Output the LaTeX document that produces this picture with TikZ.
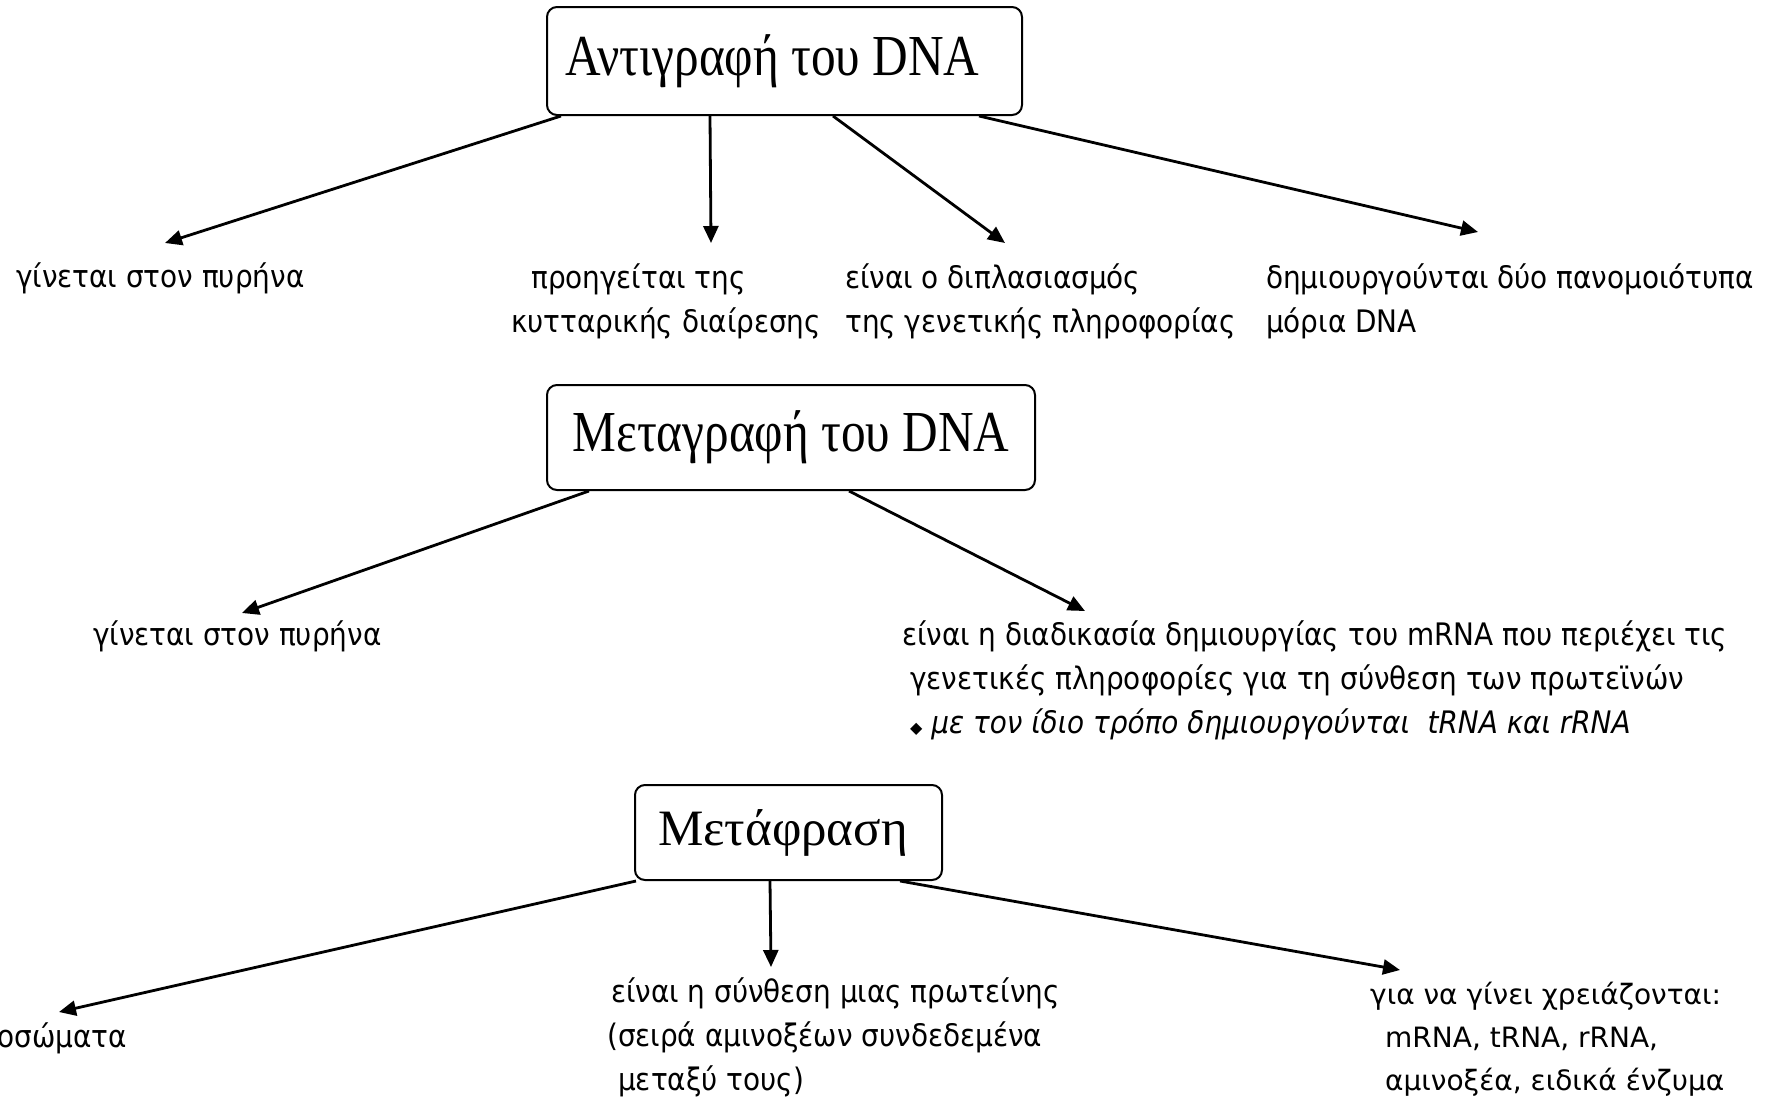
\documentclass[tikz,border=0pt]{standalone}
\usepackage{fontspec}
\usetikzlibrary{arrows.meta,calc}
\newfontfamily\titlefont[FakeStretch=0.85]{Liberation Serif}
\newfontfamily\titleplain{Liberation Serif}
\newfontfamily\bodyfont{DejaVu Sans Condensed}
\newfontfamily\roundfont{DejaVu Sans}

\begin{document}
\begin{tikzpicture}[x=1pt, y=-1pt,
	box/.style={draw, rounded corners=10pt, line width=2pt, inner sep=0pt, minimum height=105pt, font=\titlefont\fontsize{58}{60}\selectfont},
	txt/.style={anchor=base west, align=left, inner sep=0pt, font=\bodyfont\fontsize{31}{44}\selectfont},
	arr/.style={line width=2.8pt, -{Triangle[length=17pt, width=15pt]}}]
	\useasboundingbox (0,0) rectangle (1773,1100);
	% the three processes
	\node[box, minimum width=475pt, minimum height=108pt] (rep) at (784.5,61) {Αντιγραφή του DNA\hspace*{24pt}};
	\node[box, minimum width=488pt] (tra) at (791,437.5) {Μεταγραφή του DNA};
	\node[box, minimum width=307pt, minimum height=95pt, font=\titleplain\fontsize{51}{54}\selectfont] (trl) at (788.5,832.5) {Μετάφραση\hspace*{11pt}};
	% first row (base = last line)
	\node[txt] (r1) at (16,287) {γίνεται στον πυρήνα};
	\node[txt] (r2) at (511,332) {\hspace*{20pt}προηγείται της\\κυτταρικής διαίρεσης};
	\node[txt] (r3) at (845,332) {είναι ο διπλασιασμός\\της γενετικής πληροφορίας};
	\node[txt] (r4) at (1266,332) {δημιουργούνται δύο πανομοιότυπα\\μόρια DNA};
	\foreach \n/\x/\y in {e1/165/243, e2/711/243, e3/1005/243, e4/1478/232} {\coordinate (\n) at (\x,\y);}
	\foreach \dx/\n in {15/e1, 164/e2, 287/e3, 433/e4} {\draw[arr] ($(rep.south west)+(\dx,0)$) -- (\n);}
	% second row
	\node[txt] (t1) at (93,645) {γίνεται στον πυρήνα};
	\node[txt] (t2) at (902,733) {είναι η διαδικασία δημιουργίας του mRNA που περιέχει τις\\\hspace*{8pt}γενετικές πληροφορίες για τη σύνθεση των πρωτεϊνών\\\hspace*{8pt}{\roundfont\fontsize{16}{16}\selectfont ◆} \textit{με τον ίδιο τρόπο δημιουργούνται\ \ tRNA και rRNA}};
	\foreach \n/\x/\y in {f1/242/613, f2/1085/611} {\coordinate (\n) at (\x,\y);}
	\foreach \dx/\n in {43/f1, 303/f2} {\draw[arr] ($(tra.south west)+(\dx,0)$) -- (\n);}
	% third row
	\node[txt, anchor=base east] (u1) at (127,1047) {οσώματα};
	\node[txt] (u2) at (607,1090) {\hspace*{4pt}είναι η σύνθεση μιας πρωτείνης\\(σειρά αμινοξέων συνδεδεμένα\\\hspace*{11pt}μεταξύ τους)};
	\node[txt, font=\roundfont\fontsize{28}{43}\selectfont] (u3) at (1370,1090) {για να γίνει χρειάζονται:\\\hspace*{15pt}mRNA, tRNA, rRNA,\\\hspace*{15pt}αμινοξέα, ειδικά ένζυμα};
	\foreach \n/\x/\y in {g1/59/1012, g2/771/967, g3/1400/970} {\coordinate (\n) at (\x,\y);}
	\foreach \dx/\n in {2/g1, 136/g2, 266/g3} {\draw[arr] ($(trl.south west)+(\dx,0)$) -- (\n);}
\end{tikzpicture}
\end{document}
